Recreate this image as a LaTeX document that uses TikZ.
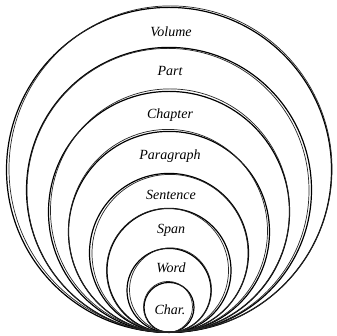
\documentclass[tikz,border=0pt]{standalone}
\usepackage{fontspec}
\setmainfont{Liberation Serif}
\begin{document}
\begin{tikzpicture}[x=1pt,y=-1pt,
  ring/.style={circle,draw=black,line width=1.2pt,inner sep=0pt,anchor=south},
  sketch/.style={draw=black!85,line width=0.7pt},
  lbl/.style={font=\itshape\fontsize{14}{14}\selectfont,inner sep=0pt}]
\useasboundingbox[fill=white] (0,0) rectangle (337,336);
\coordinate (B) at (169,333);
\node[ring,minimum size=325pt] (vol) at (B) {};
\node[ring,minimum size=285pt] (part) at (B) {};
\node[ring,minimum size=241pt] (chap) at (B) {};
\node[ring,minimum size=201pt] (para) at (B) {};
\node[ring,minimum size=159pt] (sent) at (B) {};
\node[ring,minimum size=124pt] (span) at (B) {};
\node[ring,minimum size=84pt] (word) at (B) {};
\node[ring,minimum size=50pt] (char) at (B) {};
% sketchy second strokes
\draw[sketch] (vol.center) ++(1.5,-1) ellipse [x radius=161.5,y radius=163];
\draw[sketch] (part.center) ++(-1,0.5) ellipse [x radius=141,y radius=142];
\draw[sketch] (chap.center) ++(1,-1.5) ellipse [x radius=119.5,y radius=121.5];
\draw[sketch] (para.center) ++(-1,-1) ellipse [x radius=99.5,y radius=101.5];
\draw[sketch] (sent.center) ++(1,0.5) ellipse [x radius=78,y radius=79];
\draw[sketch] (span.center) ++(-1.5,0) ellipse [x radius=61,y radius=62];
\draw[sketch] (word.center) ++(1.5,-0.5) ellipse [x radius=41,y radius=42];
\draw[sketch] (char.center) ++(-1,-0.5) ellipse [x radius=24.5,y radius=25.5];
% labels
\node[lbl] (lvol) at (171,32) {Volume};
\node[lbl] (lpart) at (170,71) {Part};
\node[lbl] (lchap) at (170,115) {Chapter};
\node[lbl] (lpara) at (170,156) {Paragraph};
\node[lbl] (lsent) at (171,195) {Sentence};
\node[lbl] (lspan) at (171,230) {Span};
\node[lbl] (lword) at (171,268) {Word};
\node[lbl] (lchar) at (170,310) {Char.};
\end{tikzpicture}
\end{document}
